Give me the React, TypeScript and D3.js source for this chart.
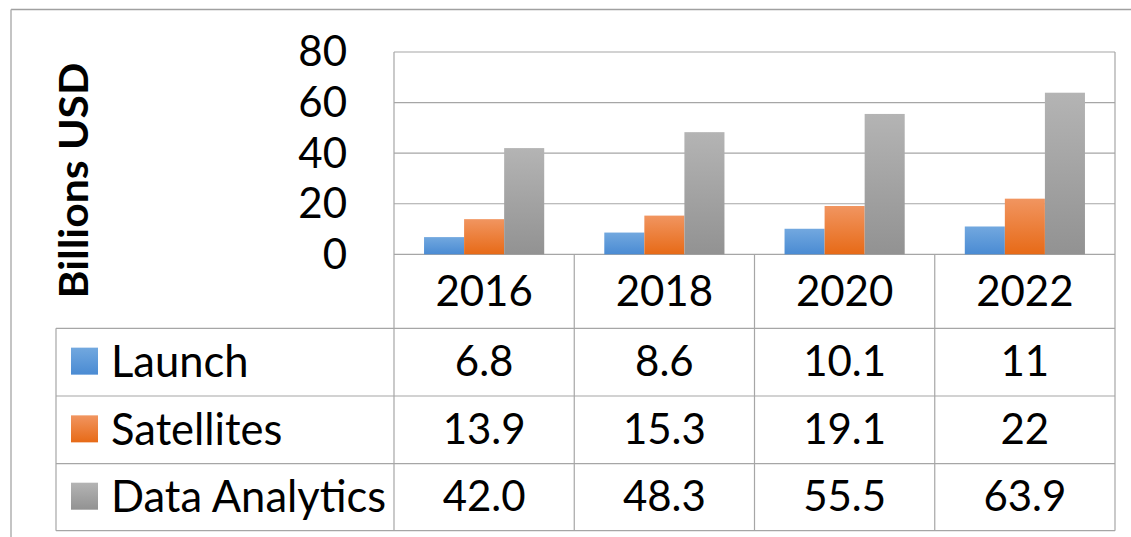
import React from "react";
import * as d3 from "d3";

const categories = ["2016", "2018", "2020", "2022"];
const seriesNames = ["Launch", "Satellites", "Data Analytics"];
const launch = [6.8, 8.6, 10.1, 11];
const satellites = [13.9, 15.3, 19.1, 22];
const dataAnalytics = [42.0, 48.3, 55.5, 63.9];
const tableLabels = [
  ["6.8", "8.6", "10.1", "11"],
  ["13.9", "15.3", "19.1", "22"],
  ["42.0", "48.3", "55.5", "63.9"],
];
const yTicks = [0, 20, 40, 60, 80];
const yTitle = "Billions USD";

const seriesValues = [launch, satellites, dataAnalytics];
const gradients = [
  { id: "gBlue", top: "#72a8df", bottom: "#4a8bd3" },
  { id: "gOrange", top: "#f19560", bottom: "#e76a17" },
  { id: "gGray", top: "#b4b4b4", bottom: "#929292" },
];

const W = 1131;
const H = 537;
const FONT = "Lato, 'Liberation Sans', sans-serif";
const FS = 42;
const FS_LEG = 43.5;
const LINE = "#a6a6a6";

export default function App() {
  const plotLeft = 394;
  const plotRight = 1115;
  const plotTop = 52;
  const plotBottom = 254.3;

  const x = d3.scaleBand<string>().domain(categories).range([plotLeft, plotRight]).padding(0);
  const xs = d3
    .scaleBand<string>()
    .domain(seriesNames)
    .range([0, x.bandwidth()])
    .paddingInner(0)
    .paddingOuter(0.75);
  const y = d3.scaleLinear().domain([0, 80]).range([plotBottom, plotTop]);

  const rowEdges = [328.3, 396, 463.7, 530.7];
  const tableLeft = 56;
  const headerMid = (plotBottom + rowEdges[0]) / 2 - 0.5;
  const capOff = 0.36 * FS;

  return (
    <svg
      width={W}
      height={H}
      style={{ position: "absolute", left: 0, top: 0, background: "#fff" }}
      fontFamily={FONT}
    >
      <defs>
        {gradients.map((g) => (
          <linearGradient key={g.id} id={g.id} x1="0" y1="0" x2="0" y2="1">
            <stop offset="0" stopColor={g.top} />
            <stop offset="1" stopColor={g.bottom} />
          </linearGradient>
        ))}
      </defs>
      <rect x={0} y={0} width={W} height={H} fill="#fff" />
      {/* outer chart border */}
      <line x1={11} y1={9.5} x2={W} y2={9.5} stroke="#a0a0a0" strokeWidth={1.5} />
      <line x1={11} y1={9.5} x2={11} y2={H} stroke="#b0b0b0" strokeWidth={1.5} />

      {/* gridlines */}
      {yTicks.map((t) => (
        <line key={t} x1={plotLeft} x2={plotRight} y1={y(t)} y2={y(t)} stroke={LINE} strokeWidth={1.2} />
      ))}
      {/* y tick labels */}
      {yTicks.map((t) => (
        <text key={"l" + t} x={347} y={y(t) - 0.7 + capOff} textAnchor="end" fontSize={FS} fill="#000">
          {t}
        </text>
      ))}
      {/* y title */}
      <text
        transform={`translate(${74 + 0.36 * 40},180.5) rotate(-90)`}
        textAnchor="middle"
        fontSize={40}
        fontWeight="bold"
        fill="#000"
        textLength={236}
        lengthAdjust="spacingAndGlyphs"
      >
        {yTitle}
      </text>

      {/* bars */}
      {categories.map((c, ci) => (
        <g key={c}>
          {seriesNames.map((s, si) => {
            const v = seriesValues[si][ci];
            return (
              <rect
                key={s}
                x={(x(c) as number) + (xs(s) as number)}
                y={y(v)}
                width={xs.bandwidth()}
                height={y(0) - y(v)}
                fill={`url(#${gradients[si].id})`}
              />
            );
          })}
        </g>
      ))}

      {/* table lines */}
      {rowEdges.map((ry, i) => (
        <line key={"r" + i} x1={tableLeft} x2={plotRight} y1={ry} y2={ry} stroke={LINE} strokeWidth={1.2} />
      ))}
      <line x1={tableLeft} x2={tableLeft} y1={rowEdges[0]} y2={rowEdges[3]} stroke={LINE} strokeWidth={1.2} />
      <line x1={plotLeft} x2={plotLeft} y1={plotTop} y2={rowEdges[3]} stroke={LINE} strokeWidth={1.2} />
      {categories.map((c, ci) =>
        ci === 0 ? null : (
          <line
            key={"v" + c}
            x1={x(c) as number}
            x2={x(c) as number}
            y1={plotBottom}
            y2={rowEdges[3]}
            stroke={LINE}
            strokeWidth={1.2}
          />
        )
      )}
      <line x1={plotRight} x2={plotRight} y1={plotTop} y2={rowEdges[3]} stroke={LINE} strokeWidth={1.2} />

      {/* header labels */}
      {categories.map((c) => (
        <text
          key={"h" + c}
          x={(x(c) as number) + x.bandwidth() / 2}
          y={headerMid + capOff}
          textAnchor="middle"
          fontSize={FS}
          fill="#000"
        >
          {c}
        </text>
      ))}

      {/* table rows */}
      {seriesNames.map((s, si) => {
        const mid = (rowEdges[si] + rowEdges[si + 1]) / 2 - 1;
        return (
          <g key={"row" + s}>
            <rect x={71} y={mid - 13.5} width={27} height={27} fill={`url(#${gradients[si].id})`} />
            <text x={111} y={mid + 0.36 * FS_LEG} fontSize={FS_LEG} fill="#000">
              {s}
            </text>
            {categories.map((c, ci) => (
              <text
                key={c}
                x={(x(c) as number) + x.bandwidth() / 2}
                y={mid + capOff}
                textAnchor="middle"
                fontSize={FS}
                fill="#000"
              >
                {tableLabels[si][ci]}
              </text>
            ))}
          </g>
        );
      })}
    </svg>
  );
}
